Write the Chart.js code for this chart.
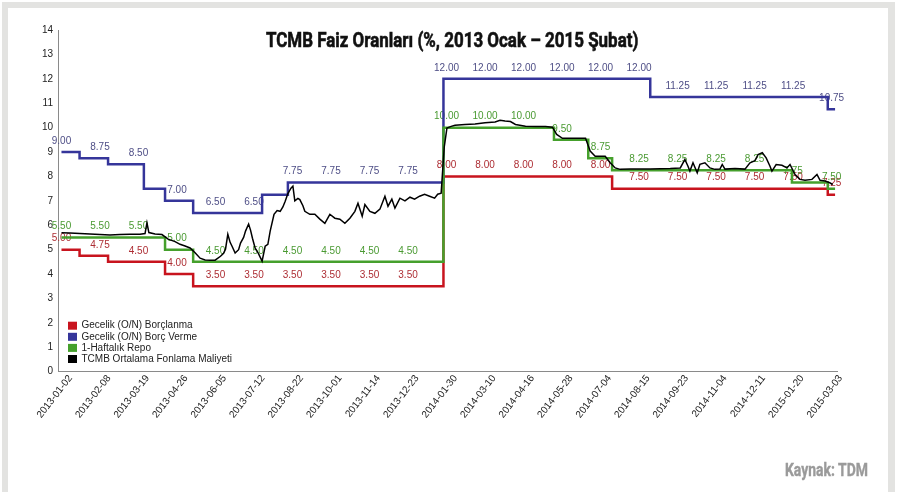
<!DOCTYPE html>
<html>
<head>
<meta charset="utf-8">
<script src="https://cdn.jsdelivr.net/npm/chart.js@4.4.1/dist/chart.umd.min.js"></script>
<style>
html, body { margin: 0; padding: 0; background: #fff; }
body { width: 900px; height: 492px; position: relative; overflow: hidden; }
#frame { position: absolute; left: 2px; top: 2px; width: 893px; height: 600px; box-sizing: border-box;
  border-top: 6px solid #e3e3e1; border-left: 6px solid #e3e3e1; border-right: 7px solid #e3e3e1; background: #fff; }
#grafik { position: absolute; left: 0; top: 0; }
.cond { position: absolute; white-space: nowrap; font-family: "Liberation Sans Narrow", "Roboto", sans-serif;
  font-weight: bold; line-height: 1; transform-origin: 0 0; }
#title { left: 266px; top: 30px; font-size: 21px; color: #111; -webkit-text-stroke: 0.6px #111; }
#source { left: 785px; top: 460px; font-size: 19px; color: #9a9a9a; -webkit-text-stroke: 0.4px #9a9a9a; }
</style>
</head>
<body>
<div id="frame"></div>
<canvas id="grafik" width="900" height="492"></canvas>
<div id="title" class="cond">TCMB Faiz Oranları (%, 2013 Ocak – 2015 Şubat)</div>
<div id="source" class="cond">Kaynak: TDM</div>
<script>
// eksen etiketleri (her biri bir x birimi)
const tarihler = ['2013-01-02', '2013-02-08', '2013-03-19', '2013-04-26', '2013-06-05', '2013-07-12',
  '2013-08-22', '2013-10-01', '2013-11-14', '2013-12-23', '2014-01-30', '2014-03-10', '2014-04-16',
  '2014-05-28', '2014-07-04', '2014-08-15', '2014-09-23', '2014-11-04', '2014-12-11', '2015-01-20', '2015-03-03'];

// faiz değişim noktaları (x: etiket aralığı cinsinden)
const borclanmaX = [0, 0.47, 1.21, 2.69, 3.42, 9.92, 14.3, 19.9, 20.09];
const borclanmaY = [5.00, 4.75, 4.50, 4.00, 3.50, 8.00, 7.50, 7.25, 7.25];

const borcVermeX = [0, 0.47, 1.21, 2.14, 2.69, 3.42, 5.21, 5.88, 9.92, 15.29, 19.9, 20.09];
const borcVermeY = [9.00, 8.75, 8.50, 7.50, 7.00, 6.50, 7.25, 7.75, 12.00, 11.25, 10.75, 10.75];

const repoX = [0, 2.69, 3.42, 9.92, 12.79, 13.68, 14.3, 18.97, 19.9, 20.09];
const repoY = [5.50, 5.00, 4.50, 10.00, 9.50, 8.75, 8.25, 7.75, 7.50, 7.50];

const fonlamaX = [0, 0.22, 0.48, 0.74, 1.0, 1.26, 1.52, 1.78, 2.04, 2.17, 2.22, 2.27, 2.43, 2.61, 2.77, 2.95,
  3.08, 3.21, 3.34, 3.47, 3.6, 3.73, 3.86, 3.99, 4.13, 4.21, 4.26, 4.32, 4.38, 4.43, 4.51, 4.6, 4.65, 4.73,
  4.78, 4.86, 4.91, 4.96, 5.03, 5.11, 5.21, 5.29, 5.36, 5.42, 5.52, 5.6, 5.68, 5.75, 5.81, 5.88, 5.96, 6.01,
  6.06, 6.14, 6.19, 6.27, 6.32, 6.45, 6.58, 6.71, 6.84, 6.97, 7.1, 7.23, 7.36, 7.49, 7.62, 7.7, 7.81, 7.88,
  8.01, 8.14, 8.27, 8.4, 8.48, 8.58, 8.66, 8.79, 8.92, 9.05, 9.17, 9.3, 9.43, 9.56, 9.69, 9.77, 9.86, 9.94,
  10.01, 10.12, 10.22, 10.48, 10.74, 11.0, 11.26, 11.39, 11.52, 11.66, 11.79, 12.05, 12.31, 12.57, 12.75,
  12.86, 13.01, 13.35, 13.61, 13.73, 13.86, 14.12, 14.25, 14.38, 14.51, 14.77, 15.03, 15.29, 15.55, 15.81,
  16.07, 16.19, 16.27, 16.32, 16.4, 16.51, 16.58, 16.71, 16.84, 16.97, 17.1, 17.16, 17.23, 17.49, 17.75,
  17.88, 18.01, 18.09, 18.2, 18.3, 18.4, 18.45, 18.56, 18.71, 18.84, 18.92, 19.05, 19.18, 19.31, 19.49,
  19.62, 19.7, 19.83, 19.95, 20.03];
const fonlamaY = [5.69, 5.68, 5.66, 5.64, 5.62, 5.60, 5.62, 5.63, 5.63, 5.66, 6.10, 5.70, 5.64, 5.62, 5.43, 5.33,
  5.22, 5.15, 5.07, 4.87, 4.65, 4.58, 4.57, 4.57, 4.73, 4.85, 5.02, 5.63, 5.30, 5.14, 4.86, 5.00, 5.27, 5.50,
  5.76, 6.05, 5.80, 5.47, 5.06, 4.86, 4.53, 5.14, 5.22, 5.76, 6.45, 6.60, 6.57, 6.75, 6.98, 7.30, 7.52, 7.60,
  7.00, 7.10, 7.05, 6.80, 6.57, 6.45, 6.45, 6.25, 6.08, 6.45, 6.29, 6.25, 6.08, 6.29, 6.57, 6.90, 6.37, 6.85,
  6.57, 6.49, 6.66, 7.19, 6.78, 7.07, 6.70, 7.11, 7.00, 7.15, 7.07, 7.19, 7.27, 7.19, 7.11, 7.27, 7.31, 9.20,
  9.98, 10.05, 10.10, 10.13, 10.15, 10.20, 10.23, 10.30, 10.27, 10.25, 10.13, 10.06, 10.05, 10.05, 10.02,
  9.72, 9.56, 9.56, 9.56, 9.04, 8.83, 8.83, 8.56, 8.35, 8.29, 8.30, 8.31, 8.30, 8.32, 8.33,
  8.35, 8.70, 8.42, 8.22, 8.56, 8.15, 8.50, 8.56, 8.35, 8.29, 8.30, 8.49, 8.30, 8.33, 8.30,
  8.56, 8.65, 8.90, 8.97, 8.76, 8.42, 8.22, 8.49, 8.46, 8.35, 8.49, 8.08, 7.88, 7.84, 7.88,
  8.08, 7.84, 7.81, 7.74, 7.67];

const yazi = '"Liberation Sans", Arial, sans-serif';
const noktalar = (xs, ys) => xs.map((x, i) => ({ x: x, y: ys[i] }));

// her tarih etiketinde o günkü oranı çizginin üstüne yaz
const degerEtiketleri = {
  id: 'degerEtiketleri',
  beforeDatasetsDraw(chart) {
    const ctx = chart.ctx;
    const sx = chart.scales.x, sy = chart.scales.y;
    ctx.save();
    ctx.font = '10px ' + yazi;
    ctx.textAlign = 'center';
    ctx.textBaseline = 'middle';
    chart.data.datasets.forEach(ds => {
      if (!ds.etiketRenk) return;
      ctx.fillStyle = ds.etiketRenk;
      tarihler.forEach((t, i) => {
        let v = ds.data[0].y;
        ds.data.forEach(p => { if (p.x <= i) v = p.y; });
        ctx.fillText(v.toFixed(2), sx.getPixelForValue(i), sy.getPixelForValue(v) - 11);
      });
    });
    ctx.restore();
  }
};

const lejant = {
  id: 'lejant',
  afterDraw(chart) {
    const ctx = chart.ctx, a = chart.chartArea;
    ctx.save();
    ctx.font = '10px ' + yazi;
    ctx.textBaseline = 'middle';
    chart.data.datasets.forEach((ds, i) => {
      const y = a.bottom - 46 + i * 11.1;
      ctx.fillStyle = ds.borderColor;
      ctx.fillRect(a.left + 10, y - 4, 9, 8);
      ctx.fillStyle = '#222';
      ctx.fillText(ds.label, a.left + 23.5, y);
    });
    ctx.restore();
  }
};

const ctx = document.getElementById('grafik').getContext('2d');
const myChart = new Chart(ctx, {
  type: 'line',
  data: {
    datasets: [{
      label: 'Gecelik (O/N) Borçlanma',
      data: noktalar(borclanmaX, borclanmaY),
      borderColor: '#c8141e', borderWidth: 2.5, stepped: true, order: 3, etiketRenk: '#ad2d33'
    }, {
      label: 'Gecelik (O/N) Borç Verme',
      data: noktalar(borcVermeX, borcVermeY),
      borderColor: '#35359a', borderWidth: 2.5, stepped: true, order: 2, etiketRenk: '#4e4e86'
    }, {
      label: '1-Haftalık Repo',
      data: noktalar(repoX, repoY),
      borderColor: '#45a02c', borderWidth: 2.5, stepped: true, order: 1, etiketRenk: '#4a9a32'
    }, {
      label: 'TCMB Ortalama Fonlama Maliyeti',
      data: noktalar(fonlamaX, fonlamaY),
      borderColor: '#000000', borderWidth: 1.5, order: 0
    }]
  },
  options: {
    responsive: false,
    animation: false,
    elements: { point: { radius: 0 }, line: { tension: 0 } },
    layout: { padding: { left: 0, right: 63, top: 30, bottom: 0 } },
    plugins: { legend: { display: false }, tooltip: { enabled: false } },
    scales: {
      x: {
        type: 'linear', min: -0.09, max: 20.14,
        afterBuildTicks: s => { s.ticks = tarihler.map((t, i) => ({ value: i })); },
        afterFit: s => { s.height = 120.3; },
        grid: { display: false, drawTicks: false },
        border: { display: true, color: '#8a8a8a', width: 1 },
        ticks: {
          autoSkip: false, minRotation: 52, maxRotation: 52, padding: 1, labelOffset: 9,
          color: '#222', font: { size: 10, family: yazi },
          callback: (v, i) => tarihler[i]
        }
      },
      y: {
        min: 0, max: 14,
        afterFit: s => { s.width = 58; },
        grid: { display: false, drawTicks: false },
        border: { display: true, color: '#8a8a8a', width: 1 },
        ticks: { stepSize: 1, padding: 5, color: '#222', font: { size: 10, family: yazi } }
      }
    }
  },
  plugins: [degerEtiketleri, lejant]
});

// yoğun başlık yazısını genişliğe sığdır
const sigdir = (id, w) => {
  const el = document.getElementById(id);
  el.style.transform = 'scaleX(' + (w / el.offsetWidth) + ')';
};
sigdir('title', 372);
sigdir('source', 83);
</script>
</body>
</html>
